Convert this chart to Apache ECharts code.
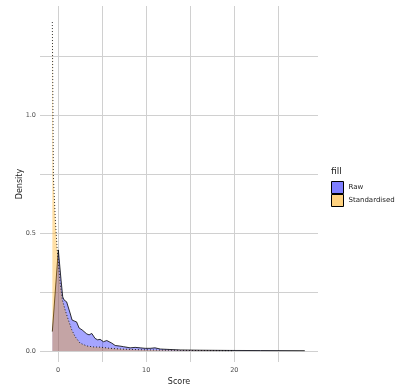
<!DOCTYPE html>
<html>
<head>
<meta charset="utf-8">
<script src="https://cdn.jsdelivr.net/npm/echarts@6/dist/echarts.min.js"></script>
<style>html,body{margin:0;padding:0;background:#fff}#c{width:398px;height:392px}</style>
</head>
<body>
<div id="c"></div>
<script>
// Data
var seriesNames = ['Raw', 'Standardised'];
var rawX = [-0.65, 0.03, 0.34, 0.53, 0.68, 0.97, 1.36, 1.59, 1.82, 2.10, 2.39, 2.73, 2.95, 3.26, 3.52, 3.83, 4.20, 4.49, 4.77, 5.15, 5.53, 6.10, 6.48, 6.93, 7.42, 8.18, 8.75, 9.32, 9.89, 10.45, 11.0, 11.6, 12.7, 13.9, 16.1, 19.5, 23.0, 28.0];
var rawY = [0.082, 0.428, 0.300, 0.229, 0.216, 0.208, 0.161, 0.131, 0.127, 0.123, 0.097, 0.089, 0.093, 0.072, 0.068, 0.074, 0.053, 0.047, 0.049, 0.039, 0.044, 0.033, 0.023, 0.021, 0.018, 0.013, 0.015, 0.013, 0.011, 0.011, 0.013, 0.008, 0.006, 0.004, 0.003, 0.002, 0.0015, 0.001];
var stdX = [-0.65, -0.53, -0.30, -0.10, 0.05, 0.23, 0.49, 0.80, 1.17, 1.56, 1.93, 2.50, 3.26, 3.98, 4.77, 5.90, 7.05, 9.30, 13.9, 19.9];
var stdY = [1.394, 0.737, 0.550, 0.430, 0.370, 0.288, 0.216, 0.174, 0.131, 0.089, 0.061, 0.033, 0.021, 0.017, 0.016, 0.011, 0.008, 0.005, 0.002, 0.001];
var xTicks = [0, 5, 10, 15, 20, 25];
var xLabels = [0, 10, 20];
var yTicks = [0, 0.25, 0.5, 0.75, 1.0, 1.25];
var yLabels = [0, 0.5, 1.0];

function pairs(xs, ys) { return xs.map(function (x, i) { return [x, ys[i]]; }); }

var FONT = 'DejaVu Sans';
var fills = ['rgba(0,0,255,0.5)', 'rgba(255,165,0,0.5)'];
var gridColor = '#d0d0d0';

var chart = echarts.init(document.getElementById('c'), null, {renderer: 'canvas'});
chart.setOption({
  animation: false,
  backgroundColor: '#fff',
  grid: {left: 40, right: 80, top: 6, bottom: 30, containLabel: false},
  xAxis: {
    type: 'value', min: -2.05, max: 29.5,
    name: 'Score', nameLocation: 'middle', nameGap: 16, nameMoveOverlap: false,
    nameTextStyle: {fontFamily: FONT, fontSize: 8, color: '#222'},
    axisLine: {show: false},
    axisTick: {show: false, customValues: xTicks},
    axisLabel: {customValues: xLabels, fontFamily: FONT, fontSize: 6.5, color: '#4d4d4d', margin: 5},
    splitLine: {show: true, lineStyle: {color: gridColor, width: 1}}
  },
  yAxis: {
    type: 'value', min: -0.047, max: 1.462,
    name: 'Density', nameLocation: 'middle', nameGap: 16, nameMoveOverlap: false,
    nameTextStyle: {fontFamily: FONT, fontSize: 8, color: '#222'},
    axisLine: {show: false},
    axisTick: {show: false, customValues: yTicks},
    axisLabel: {customValues: yLabels, fontFamily: FONT, fontSize: 6.5, color: '#4d4d4d', margin: 4,
      formatter: function (v) { return v.toFixed(1); }},
    splitLine: {show: true, lineStyle: {color: gridColor, width: 1}}
  },
  legend: {
    orient: 'vertical', left: 331, top: 181, padding: 0, itemWidth: 12, itemHeight: 12, itemGap: 0,
    icon: 'rect',
    textStyle: {fontFamily: FONT, fontSize: 7, color: '#222', overflow: 'none'},
    data: [
      {name: 'Raw', itemStyle: {color: fills[0], borderColor: '#000', borderWidth: 1}},
      {name: 'Standardised', itemStyle: {color: fills[1], borderColor: '#000', borderWidth: 1}}
    ]
  },
  graphic: [{
    type: 'text', left: 331, top: 167,
    style: {text: 'fill', font: '9px "DejaVu Sans"', fill: '#222'}
  }],
  series: [
    {
      name: seriesNames[0], type: 'line', data: pairs(rawX, rawY), showSymbol: false, symbol: 'none',
      lineStyle: {color: '#000', width: 0.8, type: 'solid'},
      itemStyle: {color: fills[0]},
      areaStyle: {color: fills[0], origin: 0}, z: 2
    },
    {
      name: seriesNames[1], type: 'line', data: pairs(stdX, stdY), showSymbol: false, symbol: 'none',
      lineStyle: {color: '#000', width: 0.8, type: [1, 2]},
      itemStyle: {color: fills[1]},
      areaStyle: {color: fills[1], origin: 0}, z: 3
    }
  ]
});
</script>
</body>
</html>
